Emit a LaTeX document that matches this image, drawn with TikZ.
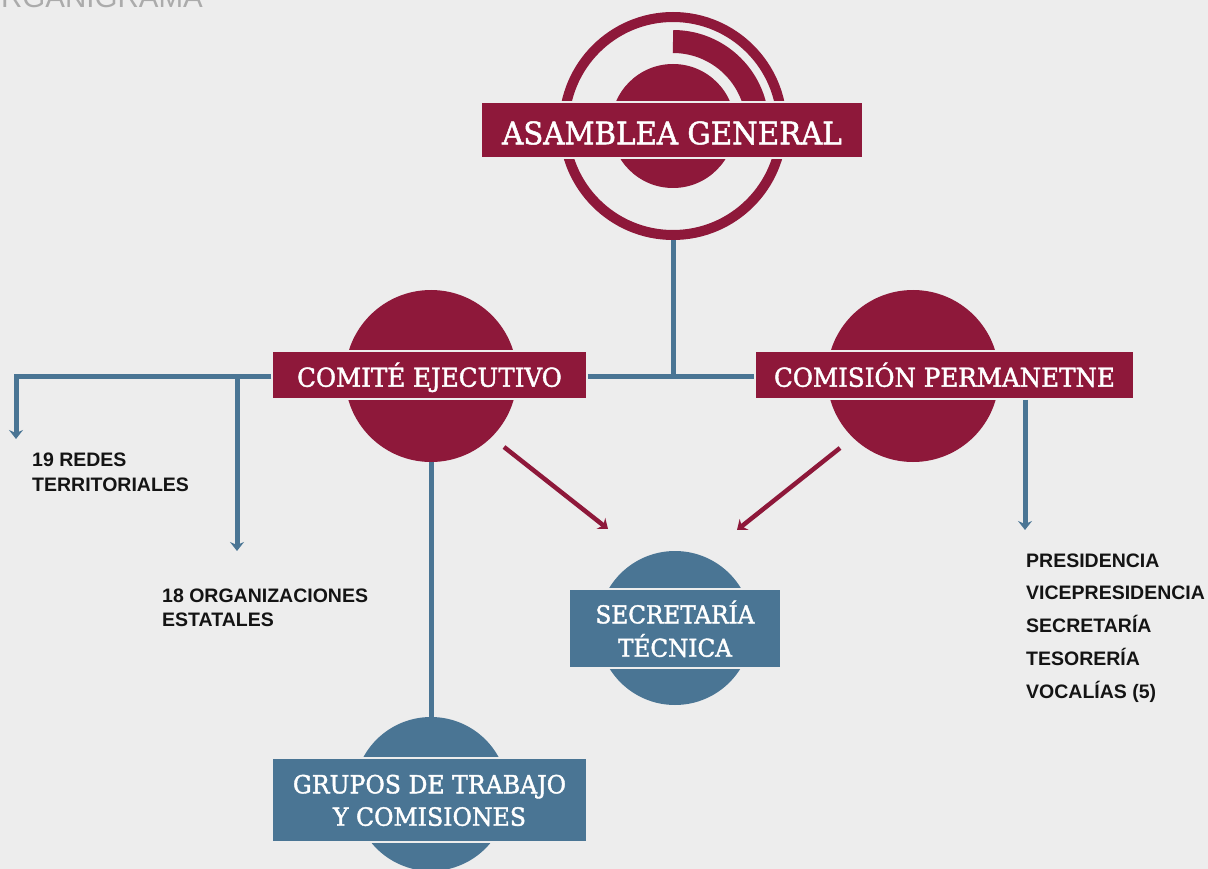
\documentclass[tikz,border=0pt]{standalone}
\usepackage{fontspec}
\usetikzlibrary{arrows.meta}
\newfontfamily\slabfont{DejaVu Serif}[FakeStretch=0.945, FakeBold=1.6]
\newfontfamily\listfont{Liberation Sans}
\definecolor{org red}{RGB}{142,24,58}
\definecolor{org blue}{RGB}{74,117,148}
\definecolor{org back}{RGB}{237,237,237}
\colorlet{org text}{black!92}
\colorlet{org title}{black!33}
\tikzset{redbox/.style={fill=org red, draw=org back, line width=1.5pt, text=white, inner sep=0pt, align=center},
    bluebox/.style={fill=org blue, draw=org back, line width=1.5pt, text=white, inner sep=0pt, align=center},
    disc/.style={circle, inner sep=0pt, minimum size=#1},
    link/.style={draw=org blue, line width=5pt},
    redlink/.style={draw=org red, line width=4.5pt},
    downtip/.style={-{Stealth[length=9pt,width=14pt,inset=3pt]}},
    listtext/.style={font=\listfont\bfseries\fontsize{19.5}{25.7}\selectfont, text=org text, align=left, inner sep=0pt}}

\begin{document}
\begin{tikzpicture}[x=1pt, y=-1pt]
 \useasboundingbox (0,0) rectangle (1208,869);
 \clip (0,0) rectangle (1208,869);
 \fill[org back] (0,0) rectangle (1208,869);

 \node[anchor=base west, inner sep=0pt, text=org title, font=\listfont\fontsize{29.5}{34}\selectfont] (title) at (-22,7.5) {ORGANIGRAMA};

 % asamblea general
 \node[disc=218pt, draw=org red, line width=10pt] (agring) at (673,126) {};
 \node[disc=124pt, fill=org red] (agdisc) at (673,126) {};
 \draw[org red, line width=23pt] (agdisc.center) ++(-90:84.5) arc[start angle=-90, end angle=-10, radius=84.5];
 \node[redbox, minimum width=382pt, minimum height=56pt, text height=28.6pt, text depth=0pt,
   font=\slabfont\fontsize{31}{37}\selectfont] (asamblea) at (672,130) {ASAMBLEA GENERAL};

 % comite / comision
 \node[disc=172pt, fill=org red] (cedisc) at (431,376) {};
 \node[redbox, minimum width=315pt, minimum height=48pt, text height=23.4pt, text depth=0pt,
   font=\slabfont\fontsize{26}{32}\selectfont] (comite) at (429.5,375) {COMITÉ EJECUTIVO};
 \node[disc=172pt, fill=org red] (cpdisc) at (913,376) {};
 \node[redbox, minimum width=379pt, minimum height=48pt, text height=23.4pt, text depth=0pt,
   font=\slabfont\fontsize{26}{32}\selectfont] (comision) at (944.5,375) {COMISIÓN PERMANETNE};

 % secretaria / grupos
 \node[disc=154pt, fill=org blue] (stdisc) at (675,628) {};
 \node[bluebox, minimum width=212pt, minimum height=79pt, text height=56.4pt, text depth=0pt,
   font=\slabfont\fontsize{24.5}{33.4}\selectfont] (secretaria) at (675,628.5) {SECRETARÍA\\TÉCNICA};
 \node[disc=154pt, fill=org blue] (gtdisc) at (431,794) {};
 \node[bluebox, minimum width=315pt, minimum height=84pt, text height=51.4pt, text depth=0pt,
   font=\slabfont\fontsize{25}{32.4}\selectfont] (grupos) at (429.5,800) {GRUPOS DE TRABAJO\\Y COMISIONES};

 % lists
 \node[listtext, anchor=base west] (redes) at (32,491.7) {19 REDES\\TERRITORIALES};
 \node[listtext, anchor=base west, font=\listfont\bfseries\fontsize{19.5}{24}\selectfont] (orgs) at (162,626.7) {18 ORGANIZACIONES\\ESTATALES};
 \node[listtext, anchor=base west, font=\listfont\bfseries\fontsize{19.5}{32.8}\selectfont] (cargos) at (1026,698.3) {PRESIDENCIA\\VICEPRESIDENCIA\\SECRETARÍA\\TESORERÍA\\VOCALÍAS (5)};

 % connectors
 \coordinate (tee) at (673,376.5);
 \coordinate (redes end) at (16,439);
 \coordinate (orgs end) at (237,551);
 \coordinate (cargos end) at (1025,530);
 \coordinate (ce out) at (504,447);
 \coordinate (st left) at (608,529);
 \coordinate (cp out) at (840,448);
 \coordinate (st right) at (737,530);

 \draw[link] (agring.south) -- (tee);
 \draw[link] (comite.east |- tee) -- (comision.west |- tee);
 \draw[link, downtip] (comite.west |- tee) -| (redes end);
 \draw[link, downtip] (orgs end |- tee) -- (orgs end);
 \draw[link, downtip] (comision.south -| cargos end) -- (cargos end);
 \draw[link] (cedisc.south) -- (gtdisc.north);
 \draw[redlink, downtip] (ce out) -- (st left);
 \draw[redlink, downtip] (cp out) -- (st right);

\end{tikzpicture}
\end{document}
